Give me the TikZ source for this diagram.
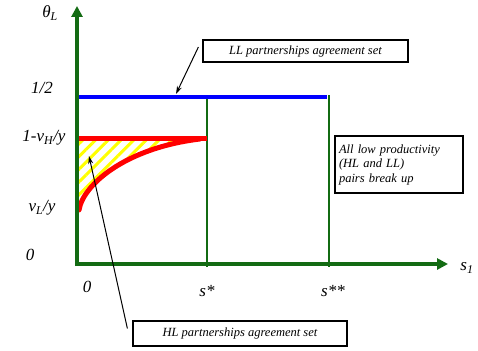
\documentclass[tikz,border=0pt]{standalone}
\usepackage{fontspec}
\setmainfont{Liberation Serif}
\usepackage{tikz}
\usetikzlibrary{arrows.meta,positioning,calc,patterns.meta}
\usepackage{xcolor}
\definecolor{AxisGreen}{HTML}{136B13}
\definecolor{SetBlue}{HTML}{0000FF}
\definecolor{SetRed}{HTML}{FF0000}
\definecolor{HatchYellow}{HTML}{FFFF00}

\begin{document}
\begin{tikzpicture}[x=1pt, y=-1pt,
    axis/.style={draw=AxisGreen, line width=4pt, -{Triangle[length=11pt, width=11pt]}},
    guide/.style={draw=AxisGreen, line width=2pt},
    lbl/.style={font=\fontsize{17}{20}\selectfont\itshape, inner sep=0pt},
    box/.style={draw=black, line width=1.2pt, fill=white, font=\fontsize{12.5}{14.5}\selectfont\itshape, inner sep=2pt},
    arr/.style={-{Stealth[length=8pt, width=5pt]}, draw=black, line width=1pt}
  ]
    \useasboundingbox (0,0) rectangle (478,350);

    % points of the diagram
    \coordinate (O) at (77,264);
    \coordinate (half0) at (77,97);
    \coordinate (half1) at (327,97);
    \coordinate (top0) at (77,138);
    \coordinate (top1) at (207,138);
    \coordinate (low0) at (79,210);

    % hatched HL region
    \fill[pattern={Lines[angle=45, distance=9pt, line width=3pt]}, pattern color=HatchYellow]
      (77,138) -- (200,139) .. controls (125,148) and (83,185) .. (low0) -- (77,210) -- cycle;

    % s* and s** guides
    \draw[guide] (207,97) -- (207,267);
    \draw[guide] (329,95) -- (329,267);

    % LL set
    \draw[draw=SetBlue, line width=4pt] (half0) -- (half1);
    % HL set
    \draw[draw=SetRed, line width=5pt, line cap=round] (low0) .. controls (83,185) and (125,148) .. (200,139);
    \draw[draw=SetRed, line width=5pt] (top0) -- (top1);

    % axes
    \draw[axis] ($(O)+(0,2)$) -- (77,6);
    \draw[axis] ($(O)+(-2,0)$) -- (448,264);

    % axis labels
    \node[lbl] (thetaL) at (50,13) {θ\textsubscript{L}};
    \node[lbl] (yhalf) at (42,88) {1/2};
    \node[lbl] (ytop) at (44,138) {1-v\textsubscript{H}/y};
    \node[lbl] (ylow) at (42,208) {v\textsubscript{L}/y};
    \node[lbl] (yzero) at (30,255) {0};
    \node[lbl] (xzero) at (87,287) {0};
    \node[lbl] (sstar) at (207,291) {s*};
    \node[lbl] (sstar2) at (333,291) {s**};
    \node[lbl] (s1) at (467,268) {s\textsubscript{1}};

    % boxes
    \node[box, minimum width=205pt, minimum height=22pt] (llbox) at (305.5,51) {LL partnerships agreement set};
    \node[box, minimum width=128pt, minimum height=57pt, align=left, text width=120pt] (allbox) at (399,164.5) {All low productivity\\(HL and LL)\\pairs break up};
    \node[box, minimum width=214pt, minimum height=25pt] (hlbox) at (240,333.5) {HL partnerships agreement set};

    % pointers
    \coordinate (llpt) at (176,94);
    \coordinate (hlpt) at (89,156);
    \draw[arr] ($(llbox.west)+(-4,-4)$) -- (llpt);
    \draw[arr] ($(hlbox.west)+(-5,-5)$) -- (hlpt);
\end{tikzpicture}
\end{document}
